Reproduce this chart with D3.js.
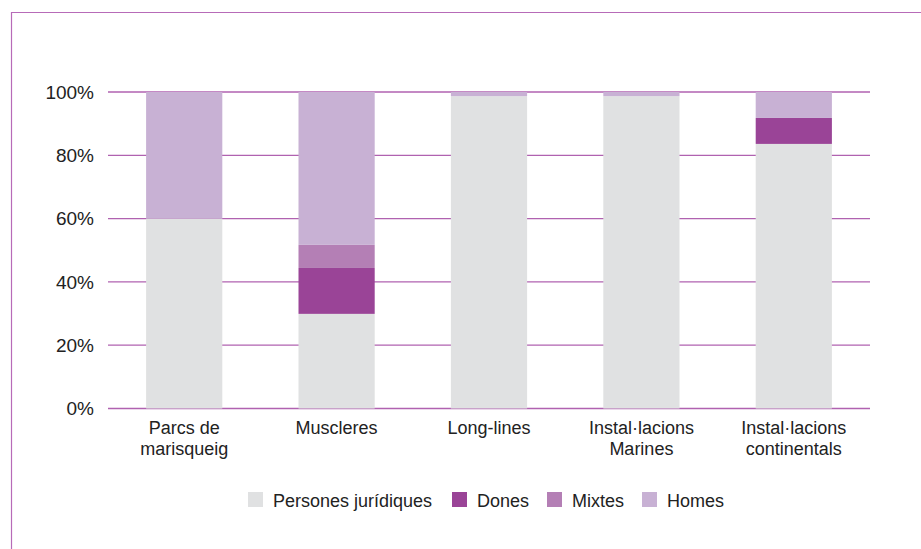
<!DOCTYPE html>
<html>
<head>
<meta charset="utf-8">
<script src="https://cdn.jsdelivr.net/npm/d3@7"></script>
<style>
  body { margin: 0; background: #fff; }
  svg { display: block; font-family: "Liberation Sans", Arial, sans-serif; }
</style>
</head>
<body>
<div id="chart"></div>
<script>
const categories = [['Parcs de', 'marisqueig'], ['Muscleres'], ['Long-lines'], ['Instal·lacions', 'Marines'], ['Instal·lacions', 'continentals']];
const seriesNames = ['Persones jurídiques', 'Dones', 'Mixtes', 'Homes'];
const persones = [60, 29.9, 98.7, 98.7, 83.6];
const dones = [0, 14.5, 0, 0, 8.2];
const mixtes = [0, 7.3, 0, 0, 0];
const homes = [40, 48.3, 1.3, 1.3, 8.2];
const yTicks = [0, 20, 40, 60, 80, 100];
const colors = ['#e0e1e2', '#9a4497', '#b47fb5', '#c8b1d4'];

const width = 921, height = 549;
const svg = d3.select('#chart').append('svg')
  .attr('width', width)
  .attr('height', height);

// frame lines (top and left)
svg.append('line').attr('x1', 11).attr('x2', width).attr('y1', 12.5).attr('y2', 12.5)
  .attr('stroke', '#b76bb8').attr('stroke-width', 1.2);
svg.append('line').attr('x1', 11.5).attr('x2', 11.5).attr('y1', 12).attr('y2', height)
  .attr('stroke', '#b76bb8').attr('stroke-width', 1.2);

const rows = categories.map((c, i) => ({
  key: i,
  'Persones jurídiques': persones[i],
  'Dones': dones[i],
  'Mixtes': mixtes[i],
  'Homes': homes[i],
}));

const x = d3.scaleBand().domain(d3.range(categories.length)).range([108, 870]).paddingInner(0.5).paddingOuter(0.25);
const y = d3.scaleLinear().domain([0, 100]).range([408.5, 92]);

// gridlines
svg.append('g')
  .selectAll('line')
  .data(yTicks)
  .join('line')
    .attr('x1', 108).attr('x2', 870)
    .attr('y1', d => y(d)).attr('y2', d => y(d))
    .attr('stroke', '#b062b0')
    .attr('stroke-width', 1.3);

svg.append('g')
  .selectAll('text')
  .data(yTicks)
  .join('text')
    .attr('x', 94)
    .attr('y', d => y(d))
    .attr('dy', '0.35em')
    .attr('text-anchor', 'end')
    .attr('font-size', 19)
    .attr('fill', '#222')
    .text(d => d + '%');

const stack = d3.stack().keys(seriesNames);
const layers = stack(rows);

svg.append('g')
  .selectAll('g')
  .data(layers)
  .join('g')
    .attr('fill', (d, i) => colors[i])
  .selectAll('rect')
  .data(d => d)
  .join('rect')
    .attr('x', d => x(d.data.key))
    .attr('width', x.bandwidth())
    .attr('y', d => y(d[1]))
    .attr('height', d => y(d[0]) - y(d[1]));

// category labels
const labels = svg.append('g')
  .selectAll('text')
  .data(categories)
  .join('text')
    .attr('x', (d, i) => x(i) + x.bandwidth() / 2)
    .attr('y', 434)
    .attr('text-anchor', 'middle')
    .attr('font-size', 18)
    .attr('fill', '#222');
labels.selectAll('tspan')
  .data(d => d)
  .join('tspan')
    .attr('x', function() { return this.parentNode.getAttribute('x'); })
    .attr('dy', (d, i) => i === 0 ? 0 : 21)
    .text(d => d);

// legend
const legendX = [248, 452, 547, 642];
const legend = svg.append('g')
  .selectAll('g')
  .data(seriesNames)
  .join('g')
    .attr('transform', (d, i) => `translate(${legendX[i]}, 492)`);
legend.append('rect')
  .attr('width', 15).attr('height', 15)
  .attr('fill', (d, i) => colors[i]);
legend.append('text')
  .attr('x', 25).attr('y', 14.5)
  .attr('font-size', 18)
  .attr('fill', '#222')
  .text(d => d);
</script>
</body>
</html>
